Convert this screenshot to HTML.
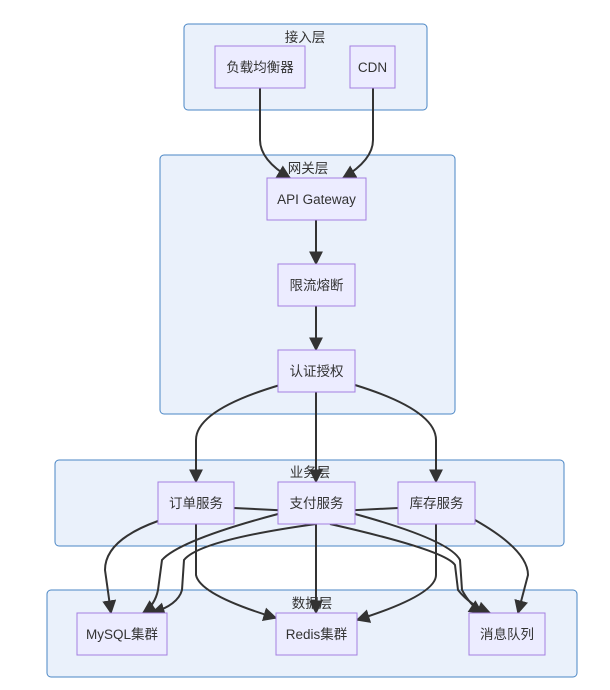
<!DOCTYPE html>
<html><head><meta charset="utf-8"><style>
html,body{margin:0;padding:0;background:#fff;}
svg{display:block;}
text{font-family:"Liberation Sans","Noto Sans CJK SC",sans-serif;font-size:13.5px;fill:#333;}
.cl{fill:#eaf1fb;stroke:#4a86c5;stroke-width:1;}
.nd{fill:#ececff;stroke:#a47fe0;stroke-width:1;}
.e{fill:none;stroke:#333;stroke-width:2;}
</style></head><body>
<svg width="610" height="690" viewBox="0 0 610 690" xmlns="http://www.w3.org/2000/svg">
<defs><marker id="a" viewBox="0 0 10 10" refX="9" refY="5" markerWidth="7" markerHeight="7" markerUnits="userSpaceOnUse" orient="auto"><path d="M0,0L10,5L0,10z" fill="#333"/></marker>
<marker id="m" viewBox="0 0 10 10" refX="9" refY="5" markerWidth="14" markerHeight="14" markerUnits="userSpaceOnUse" orient="auto"><path d="M0,0L10,5L0,10z" fill="#333"/></marker></defs>
<rect class="cl" x="184" y="24" width="243" height="86" rx="4"/>
<rect class="cl" x="160" y="155" width="295" height="259" rx="4"/>
<rect class="cl" x="55" y="460" width="509" height="86" rx="4"/>
<rect class="cl" x="47" y="590" width="530" height="87" rx="4"/>
<text x="305" y="42" text-anchor="middle">接入层</text>
<text x="308" y="173" text-anchor="middle">网关层</text>
<text x="310" y="477" text-anchor="middle">业务层</text>
<text x="312" y="608" text-anchor="middle">数据层</text>
<g class="e" marker-end="url(#m)">
<path d="M260,88 L260,140 Q260,160 290,178"/>
<path d="M373,88 L373,140 Q373,160 343,178"/>
<path d="M316,220 L316,264"/>
<path d="M316,306 L316,350"/>
<path d="M280,385 Q196,410 196,440 L196,482"/>
<path d="M316,392 L316,482"/>
<path d="M355,385 Q436,410 436,440 L436,482"/>
<path d="M158,521 Q105,540 105,570 L111,613"/>
<path d="M196,524 L196,575 Q200,595 276,618"/>
<path d="M234,508 L355,514 Q450,540 460,560 L462,590 Q470,605 482,613"/>
<path d="M398,508 L278,514 Q180,540 162,560 L158,590 Q155,605 143,613"/>
<path d="M316,524 Q200,540 184,560 L182,590 Q178,605 152,613"/>
<path d="M316,524 L316,613"/>
<path d="M330,524 Q445,550 455,565 L458,590 Q470,605 490,613"/>
<path d="M436,524 L436,575 Q436,595 357,620"/>
<path d="M475,520 Q528,550 528,575 L518,613"/>
</g>
<rect class="nd" x="215" y="46" width="90" height="42"/><text x="260" y="72" text-anchor="middle">负载均衡器</text>
<rect class="nd" x="350" y="46" width="45" height="42"/><text x="372.5" y="72" text-anchor="middle">CDN</text>
<rect class="nd" x="267" y="178" width="99" height="42"/><text x="316.5" y="204" text-anchor="middle">API Gateway</text>
<rect class="nd" x="278" y="264" width="77" height="42"/><text x="316.5" y="290" text-anchor="middle">限流熔断</text>
<rect class="nd" x="278" y="350" width="77" height="42"/><text x="316.5" y="376" text-anchor="middle">认证授权</text>
<rect class="nd" x="158" y="482" width="76" height="42"/><text x="196" y="508" text-anchor="middle">订单服务</text>
<rect class="nd" x="278" y="482" width="77" height="42"/><text x="316.5" y="508" text-anchor="middle">支付服务</text>
<rect class="nd" x="398" y="482" width="77" height="42"/><text x="436.5" y="508" text-anchor="middle">库存服务</text>
<rect class="nd" x="77" y="613" width="90" height="42"/><text x="122" y="639" text-anchor="middle">MySQL集群</text>
<rect class="nd" x="276" y="613" width="81" height="42"/><text x="316.5" y="639" text-anchor="middle">Redis集群</text>
<rect class="nd" x="469" y="613" width="76" height="42"/><text x="507" y="639" text-anchor="middle">消息队列</text>
</svg>
</body></html>
